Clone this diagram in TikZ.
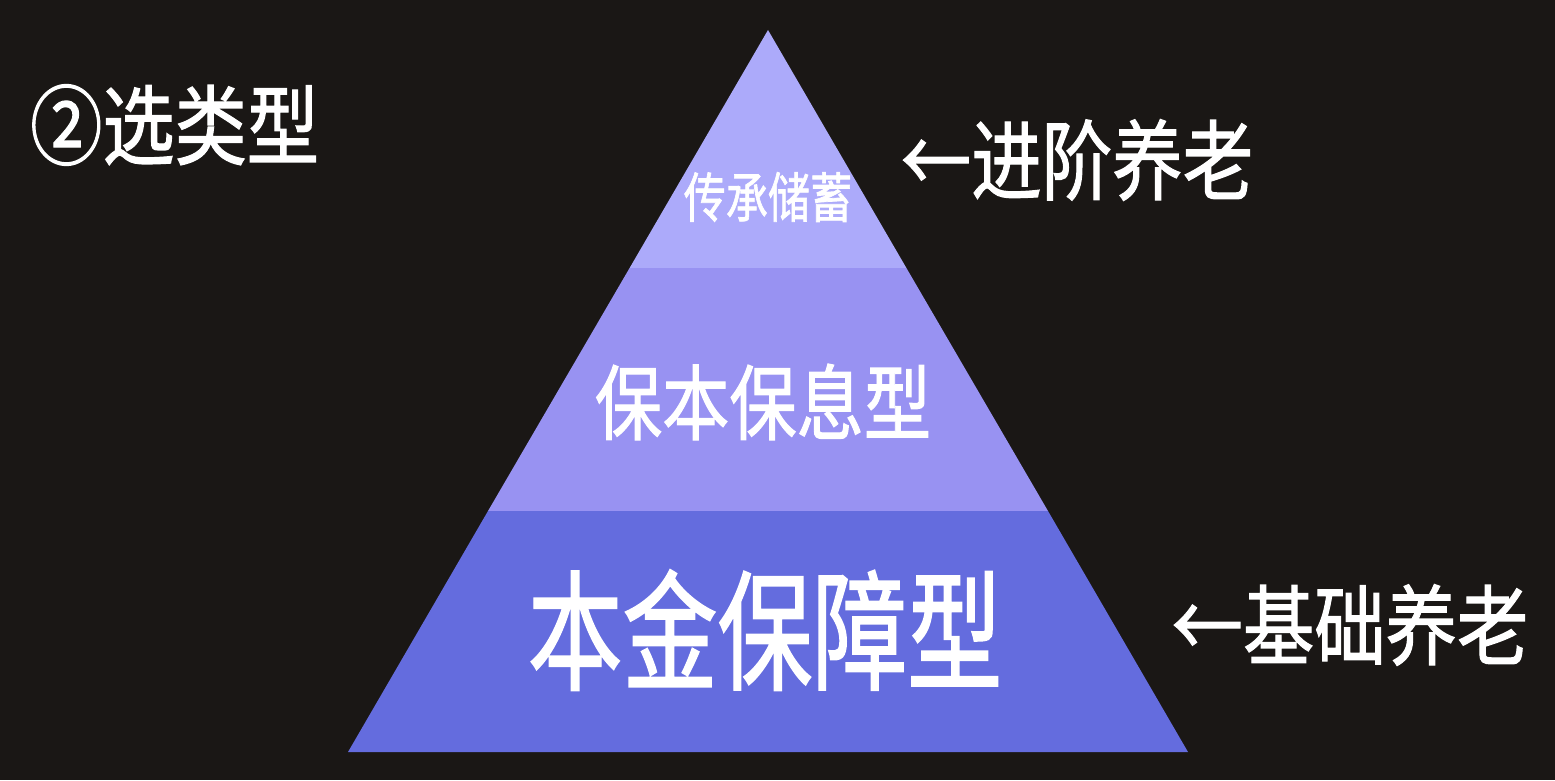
\documentclass[tikz,border=0pt]{standalone}
\usepackage{fontspec}
\usepackage{graphicx}
\newfontfamily\cjk[FakeBold=1.4]{Noto Sans CJK SC}
\definecolor{bgdark}{RGB}{26,23,21}
\definecolor{layertop}{RGB}{172,170,250}
\definecolor{layermid}{RGB}{152,146,242}
\definecolor{layerbot}{RGB}{100,108,222}
\tikzset{
  lbl/.style={text=white, inner sep=0pt, font=\cjk},
}
\newcommand{\cn}[3]{\fontsize{#1bp}{#1bp}\selectfont\scalebox{#2}[1]{#3}}
\begin{document}
\begin{tikzpicture}[x=1bp, y=-1bp]
\fill[bgdark] (0,0) rectangle (1555,780);
\useasboundingbox (0,0) rectangle (1555,780);
% pyramid layers
\coordinate (apex) at (768,30);
\fill[layertop] (apex) -- (906.4,268) -- (629.6,268) -- cycle;
\fill[layermid] (629.6,268) -- (906.4,268) -- (1048,511) -- (488,511) -- cycle;
\fill[layerbot] (488,511) -- (1048,511) -- (1188,752) -- (348,752) -- cycle;
% labels
\node[lbl] (top) at (768,197) {\cn{54}{0.78}{传承储蓄}};
\node[lbl] (mid) at (763,402) {\cn{82}{0.82}{保本保息型}};
\node[lbl] (bot) at (765,630) {\cn{130}{0.73}{本金保障型}};
\node[lbl, anchor=west] (title) at (30,125) {\cn{87}{0.83}{②选类型}};
\node[lbl] (adv) at (1077,160) {\cn{87}{0.81}{←进阶养老}};
\node[lbl] (base) at (1350,625) {\cn{87}{0.82}{←基础养老}};
\end{tikzpicture}
\end{document}
